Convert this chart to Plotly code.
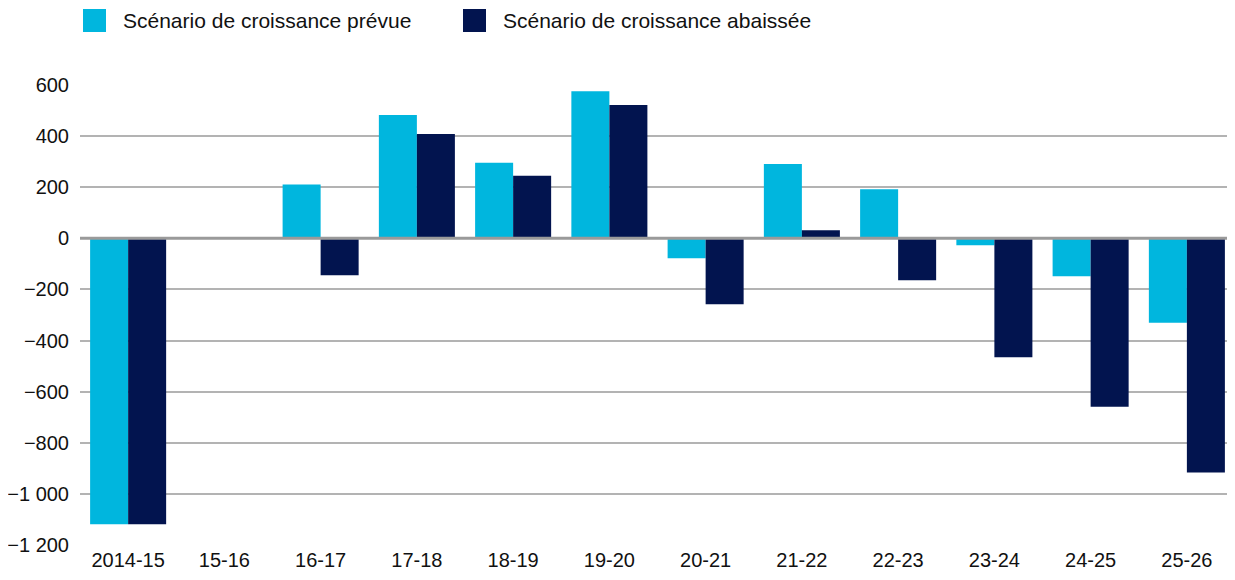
import plotly.graph_objects as go

categories = ["2014-15", "15-16", "16-17", "17-18", "18-19", "19-20",
              "20-21", "21-22", "22-23", "23-24", "24-25", "25-26"]
prevue = [-1118, 0, 210, 482, 295, 575, -78, 290, 192, -27, -149, -330]
abaissee = [-1118, 0, -145, 408, 244, 521, -258, 31, -164, -465, -659, -916]
series_names = ["Scénario de croissance prévue", "Scénario de croissance abaissée"]
colors = ["#00B6DE", "#02144F"]
y_ticks = [600, 400, 200, 0, -200, -400, -600, -800, -1000, -1200]

FONT = "Liberation Sans, Arial, Helvetica, sans-serif"

fig = go.Figure()
for name, vals, col in zip(series_names, [prevue, abaissee], colors):
    fig.add_trace(go.Bar(x=categories, y=vals, name=name, marker_color=col,
                         marker_line_width=0, showlegend=False))

OFF = 8  # page body margin
W, H = 1235 - OFF, 580 - OFF
ml, mr, mt, mb = 80 - OFF, 0, 84 - OFF, 34
pw, ph = W - ml - mr, H - mt - mb

def px2paper_x(px):
    return (px - OFF - ml) / pw

def px2paper_y(py):
    return (H - mb - (py - OFF)) / ph

# custom legend (large square swatches)
legend_pos = [(83, 121), (463, 501)]
for (sx, tx), name, col in zip(legend_pos, series_names, colors):
    fig.add_shape(type="rect", xref="paper", yref="paper",
                  x0=px2paper_x(sx), x1=px2paper_x(sx + 23),
                  y0=px2paper_y(32), y1=px2paper_y(9),
                  fillcolor=col, line_width=0)
    fig.add_annotation(xref="paper", yref="paper", x=px2paper_x(tx),
                       y=px2paper_y(20.5), text=name, showarrow=False,
                       xanchor="left", yanchor="middle",
                       font=dict(family=FONT, size=21, color="#111111"))

# zero line above bars
fig.add_shape(type="line", xref="paper", yref="y", x0=0, x1=1, y0=0, y1=0,
              line=dict(color="#9a9a9a", width=3), layer="above")

fig.update_layout(
    width=W, height=H,
    margin=dict(l=ml, r=mr, t=mt, b=mb),
    plot_bgcolor="white", paper_bgcolor="white",
    barmode="group", bargap=0.21, bargroupgap=0,
    separators=", ",
    font=dict(family=FONT, size=20, color="#111111"),
)
fig.update_xaxes(showgrid=False, showline=False, ticks="", zeroline=False,
                 tickfont=dict(family=FONT, size=20, color="#111111"))
fig.update_yaxes(range=[-1203, 603], tickvals=y_ticks, showgrid=True,
                 gridcolor="#b3b3b3", gridwidth=1.5, zeroline=False,
                 showline=False, ticks="", ticklabelstandoff=10,
                 tickformat=",d",
                 tickfont=dict(family=FONT, size=20, color="#111111"))

fig.write_html("out.html")
